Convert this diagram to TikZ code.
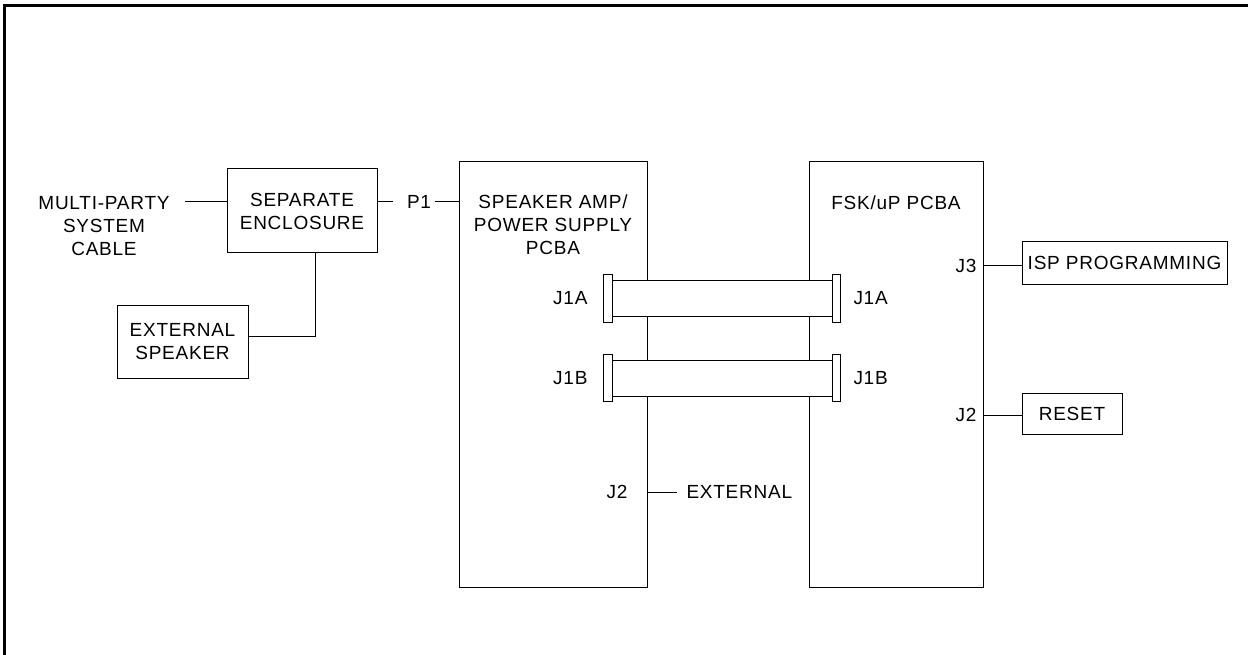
\documentclass[tikz,border=0pt]{standalone}
\usepackage{fontspec}
\setmainfont{Liberation Sans}[LetterSpace=4]
\usetikzlibrary{positioning}

\begin{document}
\begin{tikzpicture}[x=1pt,y=-1pt,line width=1pt,
        font=\fontsize{19}{23}\selectfont,
        box/.style={draw, inner sep=0pt, align=center},
        cable/.style={draw, fill=white, inner sep=0pt},
        lbl/.style={inner sep=0pt, align=center}]
        % Frame
        \useasboundingbox (0,0) rectangle (1248,655);
        \draw[line width=3pt] (4.5,655) -- (4.5,6) -- (1248,6);
        % Left side: cable, enclosure, speaker
        \node[lbl] (multi) at (104,226) {MULTI-PARTY\\SYSTEM\\CABLE};
        \node[box, minimum width=150pt, minimum height=84pt] (encl) at (302,211) {SEPARATE\\ENCLOSURE};
        \node[box, minimum width=131pt, minimum height=73pt] (spk) at (182.5,341.5) {EXTERNAL\\SPEAKER};
        \coordinate (mpend) at (185,202);
        \coordinate (bend) at (315,336);
        \draw (mpend) -- (encl.west |- mpend);
        \draw (encl.south -| bend) -- (bend) -- (spk.east |- bend);
        % Boards
        \node[box, minimum width=188pt, minimum height=425pt] (amp) at (553,374.5) {};
        \node[lbl, below=33pt of amp.north] (amptxt) {SPEAKER AMP/\\POWER SUPPLY\\PCBA};
        \node[box, minimum width=174pt, minimum height=425pt] (fsk) at (896,374.5) {};
        \node[lbl, below=34pt of fsk.north] (fsktxt) {FSK/uP PCBA};
        % P1
        \node[lbl] (pone) at (419,202) {P1};
        \draw (encl.east |- pone) -- ([xshift=-14pt]pone.west);
        \draw ([xshift=3pt]pone.east) -- (amp.west |- pone);
        % Ribbon cables J1A, J1B
        \foreach \nm/\yy in {A/298.5,B/378}{
          \node[cable, minimum width=220pt, minimum height=36pt] (cab\nm) at (722,\yy) {};
          \node[cable, minimum width=9pt, minimum height=47pt] (lf\nm) at (607.5,\yy) {};
          \node[cable, minimum width=8pt, minimum height=47pt] (rf\nm) at (836,\yy) {};
          \node[lbl, anchor=east] (lj\nm) at (588,\yy) {J1\nm};
          \node[lbl, anchor=west] (rj\nm) at (853,\yy) {J1\nm};
        }
        % J2 external
        \node[lbl, anchor=east] (ampj) at (628,492) {J2};
        \node[lbl, anchor=west] (ext) at (686,492) {EXTERNAL};
        \draw (amp.east |- ampj) -- ([xshift=-9pt]ext.west);
        % Right side
        \node[box, minimum width=205pt, minimum height=42pt] (isp) at (1124.5,263) {ISP PROGRAMMING};
        \node[box, minimum width=100pt, minimum height=41pt] (rst) at (1072,413.5) {RESET};
        \node[lbl, anchor=east] (jthree) at (977,266) {J3};
        \node[lbl, anchor=east] (jtwo) at (977,415) {J2};
        \draw (fsk.east |- jthree) -- (isp.west |- jthree);
        \draw (fsk.east |- jtwo) -- (rst.west |- jtwo);
\end{tikzpicture}
\end{document}
